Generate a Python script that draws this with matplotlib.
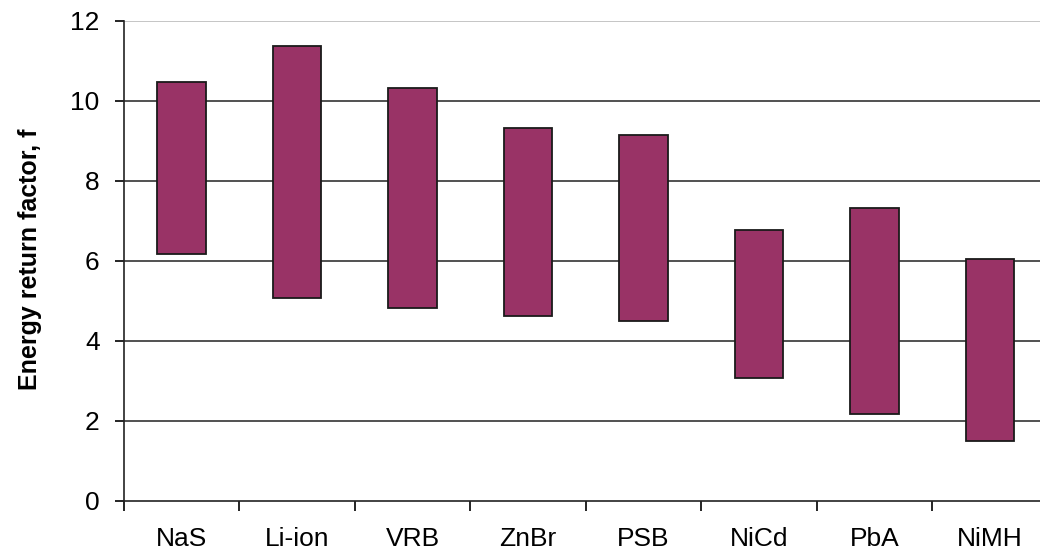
import numpy as np
import matplotlib.pyplot as plt

plt.rcParams['font.family'] = ['Liberation Sans', 'DejaVu Sans']

batteries = ['NaS', 'Li-ion', 'VRB', 'ZnBr', 'PSB', 'NiCd', 'PbA', 'NiMH']
f_low = [6.18, 5.08, 4.83, 4.63, 4.5, 3.08, 2.18, 1.5]
f_high = [10.48, 11.38, 10.33, 9.33, 9.15, 6.78, 7.33, 6.05]

fig = plt.figure(figsize=(10.4, 5.52), dpi=100)
ax = fig.add_axes([0.1192, 0.0924, 0.888, 0.8696])

x = np.arange(len(batteries))
low = np.array(f_low)
high = np.array(f_high)

# floating bars: range of energy return factor
ax.bar(x, high - low, bottom=low, width=0.42, color='#993366',
       edgecolor='#1a1a1a', linewidth=1.3, zorder=3)

ax.set_xlim(-0.5, len(batteries) - 0.5)
ax.set_ylim(0, 12)
ax.set_yticks(np.arange(0, 13, 2))
ax.tick_params(axis='y', labelsize=19, length=6.5, width=1.2, direction='out', pad=11)

# category labels at centres, tick marks on the boundaries
ax.set_xticks(x)
ax.set_xticklabels(batteries, fontsize=19)
ax.tick_params(axis='x', which='major', length=0, pad=19)
ax.set_xticks(np.arange(-0.5, len(batteries)), minor=True)
ax.tick_params(axis='x', which='minor', length=7, width=1.2, direction='out')

for yv in range(2, 12, 2):
    ax.axhline(yv, color='#333333', linewidth=1.2, zorder=1)
ax.axhline(12, color='#bbbbbb', linewidth=1.2, zorder=1)

for side in ['top', 'right']:
    ax.spines[side].set_visible(False)
for side in ['left', 'bottom']:
    ax.spines[side].set_linewidth(1.2)
    ax.spines[side].set_color('#222222')

ax.set_ylabel('Energy return factor, f', fontsize=18, fontweight='bold')
ax.yaxis.set_label_coords(-0.089, 0.504)

fig.savefig('out.png', dpi=100)
